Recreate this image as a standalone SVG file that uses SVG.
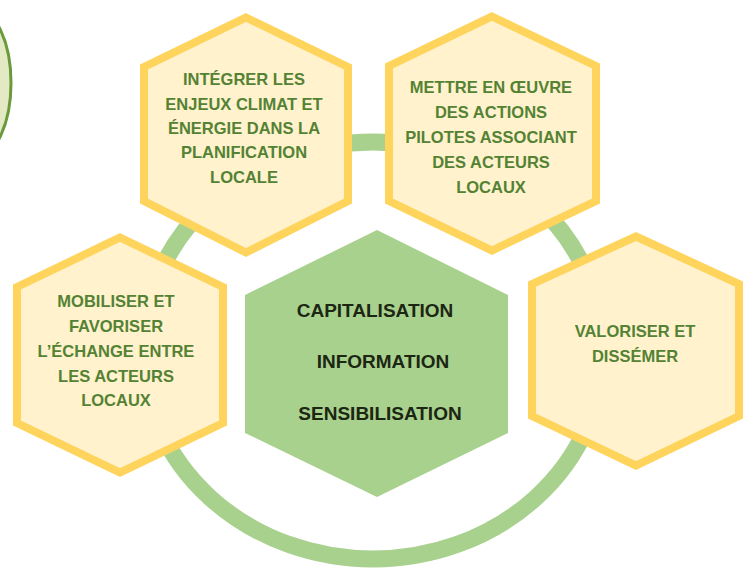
<svg xmlns="http://www.w3.org/2000/svg" width="744" height="570" viewBox="0 0 744 570">
<style>
.hex{fill:#fff2cc;stroke:#ffd45c;stroke-width:8;stroke-linejoin:miter}
.core{fill:#a9d18e}
.t{font-family:"Liberation Sans",Arial,sans-serif;font-weight:bold;font-size:16.5px;fill:#548235;text-anchor:middle}
.c{font-family:"Liberation Sans",Arial,sans-serif;font-weight:bold;font-size:19px;fill:#1c2713;text-anchor:middle}
</style>
<rect width="744" height="570" fill="#ffffff"/>
<g id="partial-ellipse">
<ellipse cx="-25" cy="83" rx="36" ry="75" fill="#e3e9c2" stroke="#6a9a3c" stroke-width="3"/>
</g>
<g id="connectors">
<ellipse cx="373" cy="350.5" rx="230" ry="208.5" fill="none" stroke="#a9d18e" stroke-width="17"/>
</g>
<g id="node-integrer">
<polygon class="hex" points="246,17.5 348,67 348,201 246,252.5 144,201 144,67"/>
<text class="t" x="244" y="85">INTÉGRER LES</text>
<text class="t" x="244" y="110">ENJEUX CLIMAT ET</text>
<text class="t" x="244" y="134">ÉNERGIE DANS LA</text>
<text class="t" x="244" y="158">PLANIFICATION</text>
<text class="t" x="244" y="183">LOCALE</text>
</g>
<g id="node-mettre">
<polygon class="hex" points="492,16.5 596,66 596,201 492,250.5 389,201 389,66"/>
<text class="t" x="491" y="93">METTRE EN ŒUVRE</text>
<text class="t" x="491" y="118">DES ACTIONS</text>
<text class="t" x="491" y="143">PILOTES ASSOCIANT</text>
<text class="t" x="491" y="168">DES ACTEURS</text>
<text class="t" x="491" y="193">LOCAUX</text>
</g>
<g id="node-mobiliser">
<polygon class="hex" points="120,237.5 223,287 223,423 120,472.5 17,423 17,287"/>
<text class="t" x="116" y="307">MOBILISER ET</text>
<text class="t" x="116" y="332">FAVORISER</text>
<text class="t" x="116" y="357">L’ÉCHANGE ENTRE</text>
<text class="t" x="116" y="382">LES ACTEURS</text>
<text class="t" x="116" y="406">LOCAUX</text>
</g>
<g id="node-valoriser">
<polygon class="hex" points="636,236.5 739,284 739,416 636,465.5 532,416 532,284"/>
<text class="t" x="635" y="337">VALORISER ET</text>
<text class="t" x="635" y="362">DISSÉMER</text>
</g>
<g id="node-center">
<polygon class="core" points="377,230 508,295 508,433 377,497 245,433 245,295"/>
<text class="c" x="375" y="317">CAPITALISATION</text>
<text class="c" x="383" y="368">INFORMATION</text>
<text class="c" x="380" y="420">SENSIBILISATION</text>
</g>
</svg>
